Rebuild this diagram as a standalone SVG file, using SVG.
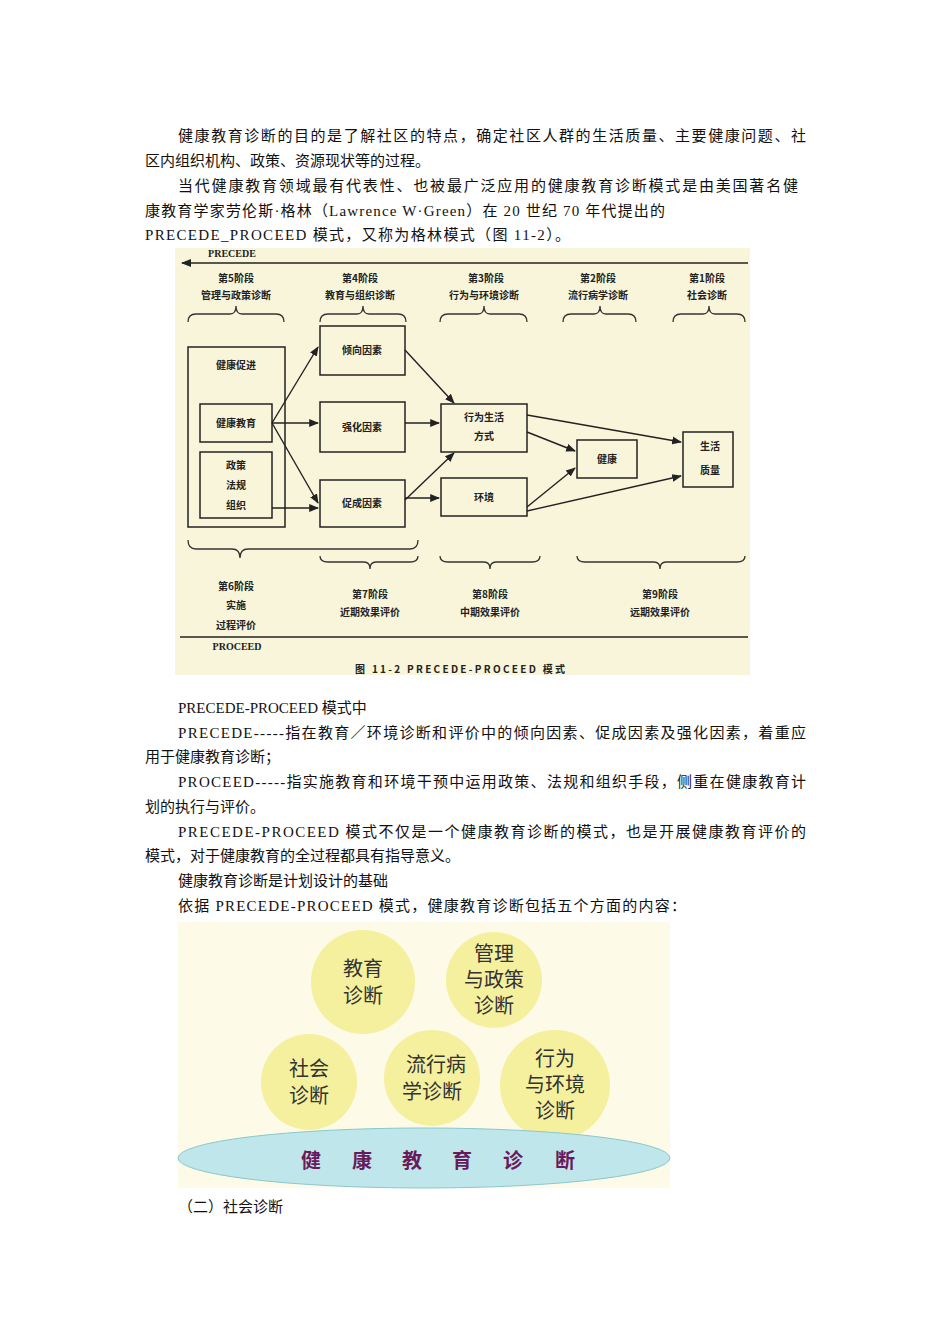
<svg xmlns="http://www.w3.org/2000/svg" width="950" height="1344" viewBox="0 0 950 1344">
<defs>
<marker id="ah" viewBox="0 0 10 10" refX="9" refY="5" markerWidth="7" markerHeight="7" orient="auto"><path d="M0,1 L10,5 L0,9 z" fill="#222"/></marker>
<style>
.p{font-family:"Liberation Serif","Noto Sans CJK SC",serif;font-size:15px;fill:#111}
.f{font-family:"Noto Sans CJK SC",sans-serif;font-size:10px;font-weight:bold;fill:#222;text-anchor:middle}
.b{fill:none;stroke:#222;stroke-width:1.5}
.br{fill:none;stroke:#333;stroke-width:1.3}
.c{fill:#f5f09e}
.ct{font-family:"Noto Sans CJK SC",sans-serif;font-size:20px;fill:#333;text-anchor:middle}
.bt{font-family:"Noto Sans CJK SC",sans-serif;font-size:20px;font-weight:bold;fill:#6a1a5a;text-anchor:middle}
</style>
</defs>
<rect width="950" height="1344" fill="#fff"/>
<g id="text">
<text class="p" x="178" y="141" textLength="628" lengthAdjust="spacing">健康教育诊断的目的是了解社区的特点，确定社区人群的生活质量、主要健康问题、社</text>
<text class="p" x="145" y="166">区内组织机构、政策、资源现状等的过程。</text>
<text class="p" x="178" y="191" textLength="620" lengthAdjust="spacing">当代健康教育领域最有代表性、也被最广泛应用的健康教育诊断模式是由美国著名健</text>
<text class="p" x="145" y="216" textLength="520" lengthAdjust="spacing">康教育学家劳伦斯·格林（Lawrence W·Green）在 20 世纪 70 年代提出的</text>
<text class="p" x="145" y="240" textLength="425" lengthAdjust="spacing">PRECEDE_PROCEED 模式，又称为格林模式（图 11-2）。</text>
<text class="p" x="178" y="713">PRECEDE-PROCEED 模式中</text>
<text class="p" x="178" y="738" textLength="628" lengthAdjust="spacing">PRECEDE-----指在教育／环境诊断和评价中的倾向因素、促成因素及强化因素，着重应</text>
<text class="p" x="145" y="762">用于健康教育诊断；</text>
<text class="p" x="178" y="787" textLength="628" lengthAdjust="spacing">PROCEED-----指实施教育和环境干预中运用政策、法规和组织手段，侧重在健康教育计</text>
<text class="p" x="145" y="812">划的执行与评价。</text>
<text class="p" x="178" y="837" textLength="628" lengthAdjust="spacing">PRECEDE-PROCEED 模式不仅是一个健康教育诊断的模式，也是开展健康教育评价的</text>
<text class="p" x="145" y="861">模式，对于健康教育的全过程都具有指导意义。</text>
<text class="p" x="178" y="886">健康教育诊断是计划设计的基础</text>
<text class="p" x="178" y="911" textLength="508" lengthAdjust="spacing">依据 PRECEDE-PROCEED 模式，健康教育诊断包括五个方面的内容：</text>
<text class="p" x="178" y="1212">（二）社会诊断</text>
</g>
<g id="fig1">
<rect x="175" y="248" width="575" height="427" fill="#f8f5da"/>
<text class="f" x="232" y="257" style="font-family:'Liberation Serif',serif">PRECEDE</text>
<line x1="748" y1="263" x2="182" y2="263" stroke="#222" stroke-width="1.5" marker-end="url(#ah)"/>
<text class="f" x="236" y="282">第5阶段</text><text class="f" x="236" y="299">管理与政策诊断</text>
<text class="f" x="360" y="282">第4阶段</text><text class="f" x="360" y="299">教育与组织诊断</text>
<text class="f" x="486" y="282">第3阶段</text><text class="f" x="484" y="299">行为与环境诊断</text>
<text class="f" x="598" y="282">第2阶段</text><text class="f" x="598" y="299">流行病学诊断</text>
<text class="f" x="707" y="282">第1阶段</text><text class="f" x="707" y="299">社会诊断</text>
<g id="topbraces">
<path class="br" d="M188,322 Q188,314 196,314 L230,314 Q236,314 236,306 Q236,314 242,314 L276,314 Q284,314 284,322"/>
<path class="br" d="M320,322 Q320,314 328,314 L357,314 Q363,314 363,306 Q363,314 369,314 L398,314 Q406,314 406,322"/>
<path class="br" d="M440,322 Q440,314 448,314 L478,314 Q484,314 484,306 Q484,314 490,314 L519,314 Q527,314 527,322"/>
<path class="br" d="M563,322 Q563,314 571,314 L594,314 Q600,314 600,306 Q600,314 606,314 L628,314 Q636,314 636,322"/>
<path class="br" d="M673,322 Q673,314 681,314 L703,314 Q709,314 709,306 Q709,314 715,314 L737,314 Q745,314 745,322"/>
</g>
<g id="n-promo"><rect class="b" x="188" y="347" width="97" height="180"/><text class="f" x="236" y="369">健康促进</text></g>
<g id="n-edu"><rect class="b" x="200" y="404" width="72" height="38"/><text class="f" x="236" y="427">健康教育</text></g>
<g id="n-policy"><rect class="b" x="200" y="452" width="72" height="66"/><text class="f" x="236" y="469">政策</text><text class="f" x="236" y="489">法规</text><text class="f" x="236" y="509">组织</text></g>
<g id="n-pre"><rect class="b" x="320" y="326" width="85" height="49"/><text class="f" x="362" y="354">倾向因素</text></g>
<g id="n-rein"><rect class="b" x="320" y="402" width="85" height="50"/><text class="f" x="362" y="431">强化因素</text></g>
<g id="n-enab"><rect class="b" x="320" y="480" width="85" height="47"/><text class="f" x="362" y="507">促成因素</text></g>
<g id="n-beh"><rect class="b" x="441" y="404" width="86" height="48"/><text class="f" x="484" y="421">行为生活</text><text class="f" x="484" y="440">方式</text></g>
<g id="n-env"><rect class="b" x="441" y="478" width="86" height="38"/><text class="f" x="484" y="501">环境</text></g>
<g id="n-health"><rect class="b" x="577" y="440" width="60" height="38"/><text class="f" x="607" y="463">健康</text></g>
<g id="n-qol"><rect class="b" x="683" y="432" width="50" height="55"/><text class="f" x="710" y="450">生活</text><text class="f" x="710" y="474">质量</text></g>
<g id="connectors" stroke="#222" stroke-width="1.4" fill="none" marker-end="url(#ah)">
<line x1="272" y1="423" x2="318" y2="347"/>
<line x1="272" y1="423" x2="318" y2="423"/>
<line x1="272" y1="423" x2="318" y2="503"/>
<line x1="272" y1="508" x2="318" y2="508"/>
<line x1="405" y1="350" x2="454" y2="403"/>
<line x1="405" y1="423" x2="439" y2="423"/>
<line x1="405" y1="500" x2="454" y2="453"/>
<line x1="405" y1="498" x2="439" y2="498"/>
<line x1="527" y1="415" x2="681" y2="442"/>
<line x1="527" y1="432" x2="575" y2="451"/>
<line x1="527" y1="507" x2="575" y2="468"/>
<line x1="527" y1="511" x2="681" y2="476"/>
</g>
<g id="bottombraces">
<path class="br" d="M188,540 Q188,549 196,549 L232,549 Q240,549 240,558 Q240,549 248,549 L410,549 Q418,549 418,540"/>
<path class="br" d="M320,556 Q320,562 328,562 L364,562 Q370,562 370,569 Q370,562 376,562 L410,562 Q418,562 418,556"/>
<path class="br" d="M440,556 Q440,562 448,562 L484,562 Q490,562 490,569 Q490,562 496,562 L532,562 Q540,562 540,556"/>
<path class="br" d="M577,556 Q577,562 585,562 L654,562 Q660,562 660,569 Q660,562 666,562 L737,562 Q745,562 745,556"/>
</g>
<text class="f" x="236" y="590">第6阶段</text><text class="f" x="236" y="609">实施</text><text class="f" x="236" y="629">过程评价</text>
<text class="f" x="370" y="598">第7阶段</text><text class="f" x="370" y="616">近期效果评价</text>
<text class="f" x="490" y="598">第8阶段</text><text class="f" x="490" y="616">中期效果评价</text>
<text class="f" x="660" y="598">第9阶段</text><text class="f" x="660" y="616">远期效果评价</text>
<line x1="180" y1="637" x2="748" y2="637" stroke="#222" stroke-width="1.5"/>
<text class="f" x="237" y="650" style="font-family:'Liberation Serif',serif">PROCEED</text>
<text class="f" x="460" y="673" textLength="210" lengthAdjust="spacing">图 11-2    PRECEDE-PROCEED 模式</text>
</g>
<g id="fig2">
<rect x="178" y="922" width="492" height="266" fill="#fdfbe8"/>
<g id="c-edu"><circle class="c" cx="363" cy="982" r="52"/><text class="ct" x="363" y="976">教育</text><text class="ct" x="363" y="1003">诊断</text></g>
<g id="c-mgmt"><circle class="c" cx="494" cy="980" r="48"/><text class="ct" x="494" y="961">管理</text><text class="ct" x="494" y="987">与政策</text><text class="ct" x="494" y="1013">诊断</text></g>
<g id="c-soc"><circle class="c" cx="309" cy="1082" r="48"/><text class="ct" x="309" y="1076">社会</text><text class="ct" x="309" y="1103">诊断</text></g>
<g id="c-epi"><circle class="c" cx="432" cy="1078" r="48"/><text class="ct" x="436" y="1072">流行病</text><text class="ct" x="432" y="1099">学诊断</text></g>
<g id="c-beh"><circle class="c" cx="555" cy="1085" r="55"/><text class="ct" x="555" y="1066">行为</text><text class="ct" x="555" y="1092">与环境</text><text class="ct" x="555" y="1118">诊断</text></g>
<ellipse cx="424" cy="1158" rx="246" ry="30" fill="#bfe6ea" stroke="#8cc8cc"/>
<g id="base-label">
<text class="bt" x="311" y="1168">健</text><text class="bt" x="362" y="1168">康</text><text class="bt" x="412" y="1168">教</text><text class="bt" x="462" y="1168">育</text><text class="bt" x="513" y="1168">诊</text><text class="bt" x="565" y="1168">断</text>
</g>
</g>
</svg>
